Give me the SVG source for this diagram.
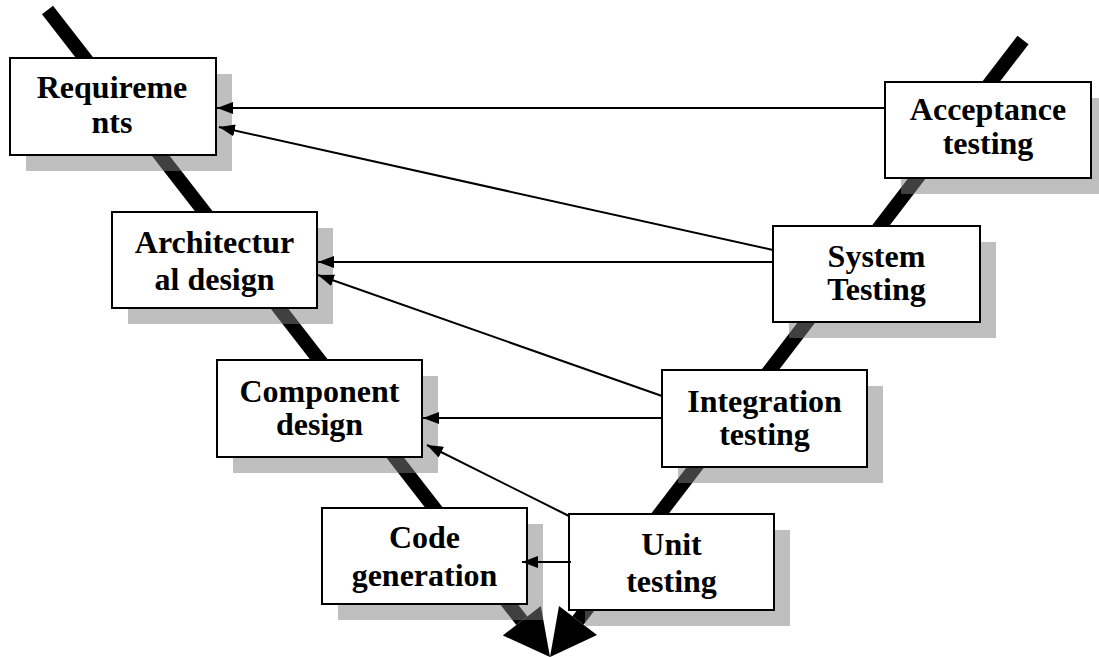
<svg xmlns="http://www.w3.org/2000/svg" width="1099" height="657" viewBox="0 0 1099 657">
  <style>
    .vline { stroke: #000; stroke-width: 14; stroke-linecap: butt; fill: none; }
    .head { fill: #000; stroke: none; }
    .shadow { fill: #808080; fill-opacity: 0.5; stroke: none; }
    .box { fill: #fff; stroke: #000; stroke-width: 2; }
    .label { font-family: "Liberation Serif", "Times New Roman", serif; font-weight: bold; font-size: 32px; fill: #000; text-anchor: middle; }
    .link { stroke: #000; stroke-width: 2; fill: none; marker-end: url(#arrow); }
  </style>
  <defs>
    <marker id="arrow" viewBox="0 0 16 12" refX="16" refY="6" markerWidth="16" markerHeight="12" markerUnits="userSpaceOnUse" orient="auto">
      <path d="M0,0 L16,6 L0,12 z" fill="#000"/>
    </marker>
  </defs>

  <!-- V-model backbone: descending and ascending strokes meeting at the bottom -->
  <g id="backbone">
    <line class="vline" x1="47.5" y1="10" x2="521.8" y2="620.7"/>
    <polygon class="head" points="550,657 540.8,606 502.8,635.4"/>
    <line class="vline" x1="1023" y1="40" x2="578" y2="620.5"/>
    <polygon class="head" points="550,657 597,635.1 559,605.9"/>
  </g>

  <g id="requirements">
    <rect class="shadow" x="26" y="74" width="206" height="97"/>
    <rect class="box" x="10" y="58" width="206" height="97"/>
    <text class="label" x="112" y="98">Requireme</text>
    <text class="label" x="112" y="133">nts</text>
  </g>

  <g id="architectural-design">
    <rect class="shadow" x="128" y="228" width="205" height="96"/>
    <rect class="box" x="112" y="212" width="205" height="96"/>
    <text class="label" x="214.5" y="253">Architectur</text>
    <text class="label" x="214.5" y="290">al design</text>
  </g>

  <g id="component-design">
    <rect class="shadow" x="233" y="376" width="205" height="97"/>
    <rect class="box" x="217" y="360" width="205" height="97"/>
    <text class="label" x="319.5" y="402">Component</text>
    <text class="label" x="319.5" y="435">design</text>
  </g>

  <g id="code-generation">
    <rect class="shadow" x="338" y="524" width="205" height="96"/>
    <rect class="box" x="322" y="508" width="205" height="96"/>
    <text class="label" x="424.5" y="548">Code</text>
    <text class="label" x="424.5" y="586">generation</text>
  </g>

  <g id="unit-testing">
    <rect class="shadow" x="585" y="530" width="205" height="96"/>
    <rect class="box" x="569" y="514" width="205" height="96"/>
    <text class="label" x="671.5" y="555">Unit</text>
    <text class="label" x="671.5" y="592">testing</text>
  </g>

  <g id="integration-testing">
    <rect class="shadow" x="678" y="386" width="205" height="97"/>
    <rect class="box" x="662" y="370" width="205" height="97"/>
    <text class="label" x="764.5" y="412">Integration</text>
    <text class="label" x="764.5" y="445">testing</text>
  </g>

  <g id="system-testing">
    <rect class="shadow" x="789" y="242" width="207" height="96"/>
    <rect class="box" x="773" y="226" width="207" height="96"/>
    <text class="label" x="876.5" y="267">System</text>
    <text class="label" x="876.5" y="300">Testing</text>
  </g>

  <g id="acceptance-testing">
    <rect class="shadow" x="901" y="98" width="206" height="96"/>
    <rect class="box" x="885" y="82" width="206" height="96"/>
    <text class="label" x="988" y="120">Acceptance</text>
    <text class="label" x="988" y="154">testing</text>
  </g>

  <!-- Verification links from test stages back to design stages -->
  <g id="connectors">
    <line class="link" x1="885" y1="108" x2="217" y2="108"/>
    <line class="link" x1="773" y1="250" x2="219" y2="127"/>
    <line class="link" x1="773" y1="262" x2="318" y2="262"/>
    <line class="link" x1="662" y1="396" x2="318" y2="275"/>
    <line class="link" x1="662" y1="418" x2="423" y2="418"/>
    <line class="link" x1="569" y1="516" x2="427" y2="445"/>
    <line class="link" x1="571" y1="562" x2="522" y2="562"/>
  </g>
</svg>
